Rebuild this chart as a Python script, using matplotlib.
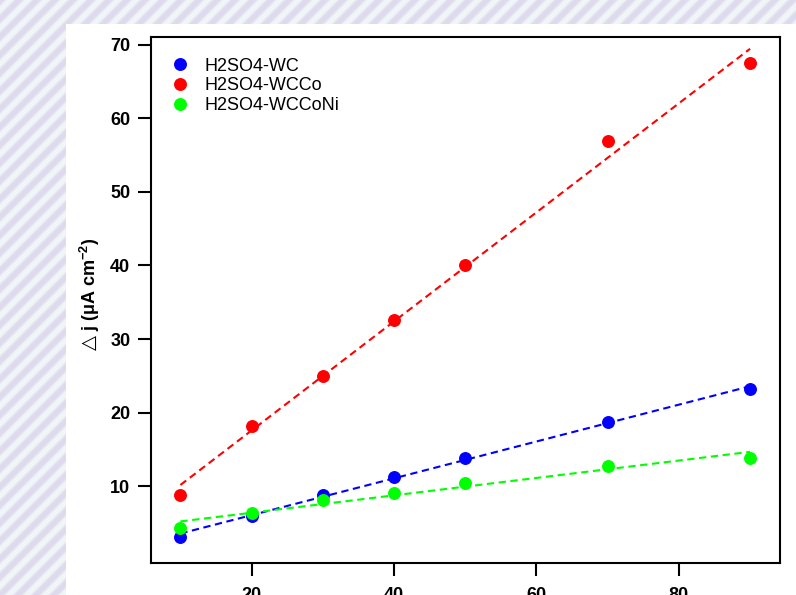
import numpy as np
import matplotlib
matplotlib.use("Agg")
import matplotlib.pyplot as plt
from matplotlib.patches import Rectangle

# Scan rate (mV/s) and current density difference (uA/cm2)
scan_rate = [10, 20, 30, 40, 50, 70, 90]
dj_wc = [3.1, 6.0, 8.8, 11.3, 13.85, 18.7, 23.2]
dj_wcco = [8.8, 18.2, 25.0, 32.6, 40.0, 56.9, 67.5]
dj_wcconi = [4.3, 6.3, 8.1, 9.1, 10.4, 12.8, 13.8]
series_labels = ["H2SO4-WC", "H2SO4-WCCo", "H2SO4-WCCoNi"]
series_colors = ["#0000ff", "#ff0000", "#00ff00"]
x_ticks = [20, 40, 60, 80]
y_ticks = [10, 20, 30, 40, 50, 60, 70]

plt.rcParams["font.family"] = ["Liberation Sans", "DejaVu Sans"]
plt.rcParams["mathtext.default"] = "regular"

W, H = 796, 595
fig = plt.figure(figsize=(W / 100, H / 100), dpi=100)

# Striped page backdrop with a white panel
bg = fig.add_axes([0, 0, 1, 1], zorder=-10)
yy, xx = np.mgrid[0:H, 0:W]
phase = np.clip(0.5 + 0.8 * np.cos(2 * np.pi * (xx + yy) / 18.0), 0, 1)
c_dark = np.array([222, 218, 237]) / 255
c_light = np.array([240, 245, 247]) / 255
img = c_light + (c_dark - c_light) * phase[..., None]
bg.imshow(img, extent=[0, W, H, 0], interpolation="bilinear", aspect="auto")
bg.add_patch(Rectangle((66, 24), W - 66, H - 24, color="white", lw=0))
bg.set_xlim(0, W)
bg.set_ylim(H, 0)
bg.axis("off")

left, right, top, bottom = 150.5, 780, 36.7, 563
ax = fig.add_axes([left / W, 1 - bottom / H, (right - left) / W, (bottom - top) / H])
ax.set_facecolor("white")

for ys, lab, col in zip([dj_wc, dj_wcco, dj_wcconi], series_labels, series_colors):
    coef = np.polyfit(scan_rate, ys, 1)
    xs = np.array([min(scan_rate), max(scan_rate)])
    ax.plot(xs, np.polyval(coef, xs), linestyle="--", color=col, lw=1.5,
            dashes=(3.5, 2.2), zorder=2)
    ax.plot(scan_rate, ys, linestyle="none", marker="o", ms=8.3, color=col,
            mec=col, label=lab, zorder=3)

ax.set_xlim(5.8, 94.2)
ax.set_ylim(-0.45, 71.1)
ax.set_xticks(x_ticks)
ax.set_yticks(y_ticks)
ax.tick_params(direction="out", length=9.5, width=1.5, labelsize=13,
               colors="black")
ax.tick_params(axis="y", pad=5.0)
ax.tick_params(axis="x", pad=8.0)
for t in ax.get_xticklabels() + ax.get_yticklabels():
    t.set_fontweight("bold")
for s in ax.spines.values():
    s.set_linewidth(1.5)
    s.set_color("black")

ax.set_ylabel(r"j (μA cm$^{-2}$)", fontsize=13, fontweight="bold")
ax.yaxis.set_label_coords((101.5 - left) / (right - left), (bottom - 284) / (bottom - top))
ax.annotate("△", xy=(0.5, 0), xycoords=ax.yaxis.label, xytext=(0, -3),
            textcoords="offset points", rotation=90, ha="center", va="top",
            fontsize=14, family="DejaVu Sans")

ax.legend(loc="upper left", bbox_to_anchor=(0.033, 0.960), frameon=False,
          fontsize=13, labelspacing=0.15, handlelength=1.0, handletextpad=0.85,
          borderpad=0, borderaxespad=0)

fig.savefig("out.png", dpi=100)
